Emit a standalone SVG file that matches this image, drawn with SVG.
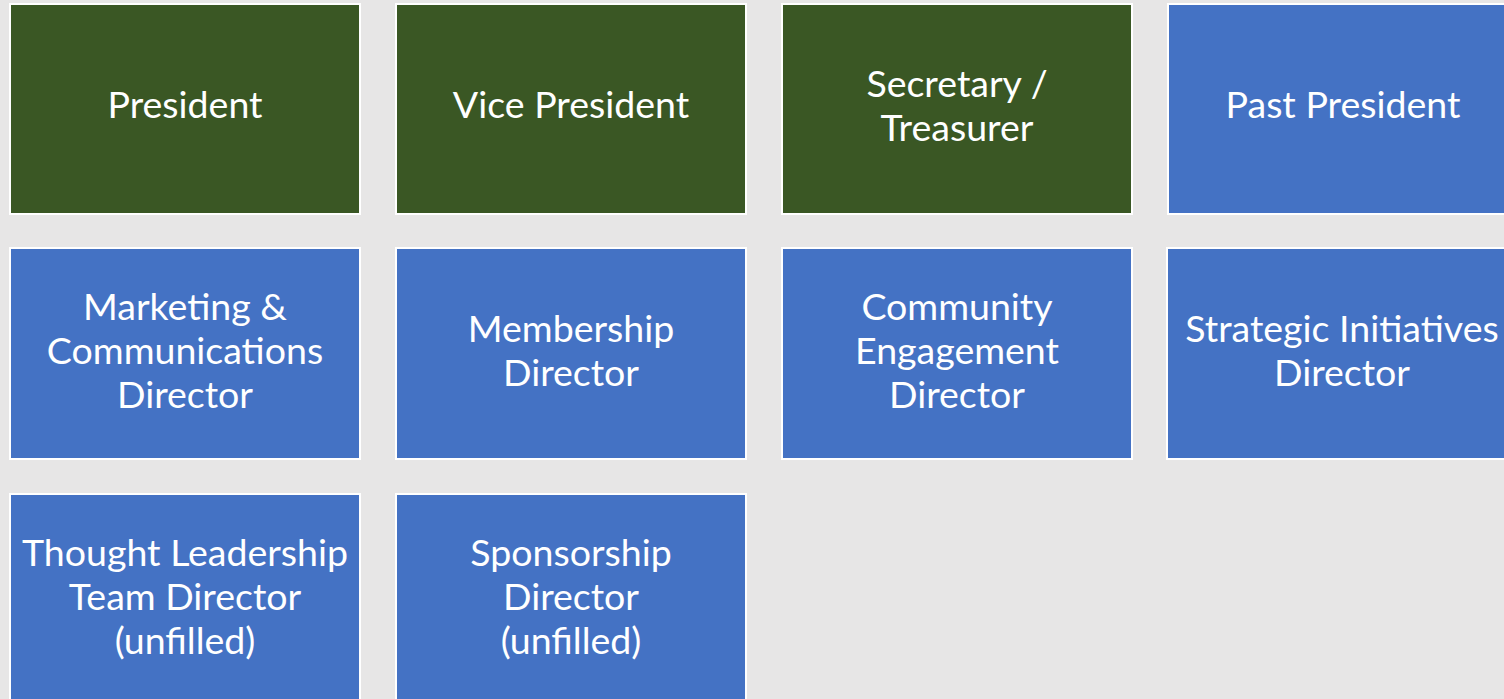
<svg xmlns="http://www.w3.org/2000/svg" width="1504" height="699" viewBox="0 0 1504 699">
  <style>
    .box { stroke: #ffffff; stroke-width: 2; }
    .officer { fill: #3a5724; }
    .director { fill: #4472c4; }
    .label { font-family: Lato, "Open Sans", "Liberation Sans", sans-serif; font-size: 37.5px; fill: #ffffff; text-anchor: middle; }
  </style>
  <rect width="1504" height="699" fill="#e7e6e6"/>

  <!-- Officers row -->
  <g id="president">
    <rect class="box officer" x="10" y="4" width="350" height="210"/>
    <text class="label" x="185" y="118">President</text>
  </g>
  <g id="vice-president">
    <rect class="box officer" x="396" y="4" width="350" height="210"/>
    <text class="label" x="571" y="118">Vice President</text>
  </g>
  <g id="secretary-treasurer">
    <rect class="box officer" x="782" y="4" width="350" height="210"/>
    <text class="label" x="957" y="97">Secretary /</text>
    <text class="label" x="957" y="141">Treasurer</text>
  </g>
  <g id="past-president">
    <rect class="box director" x="1168" y="4" width="350" height="210"/>
    <text class="label" x="1343" y="118">Past President</text>
  </g>

  <!-- Directors row -->
  <g id="marketing-communications">
    <rect class="box director" x="10" y="248" width="350" height="211"/>
    <text class="label" x="185" y="320">Marketing &amp;</text>
    <text class="label" x="185" y="364">Communications</text>
    <text class="label" x="185" y="408">Director</text>
  </g>
  <g id="membership">
    <rect class="box director" x="396" y="248" width="350" height="211"/>
    <text class="label" x="571" y="342">Membership</text>
    <text class="label" x="571" y="386">Director</text>
  </g>
  <g id="community-engagement">
    <rect class="box director" x="782" y="248" width="350" height="211"/>
    <text class="label" x="957" y="320">Community</text>
    <text class="label" x="957" y="364">Engagement</text>
    <text class="label" x="957" y="408">Director</text>
  </g>
  <g id="strategic-initiatives">
    <rect class="box director" x="1167" y="248" width="350" height="211"/>
    <text class="label" x="1342" y="342">Strategic Initiatives</text>
    <text class="label" x="1342" y="386">Director</text>
  </g>

  <!-- Open positions row -->
  <g id="thought-leadership">
    <rect class="box director" x="10" y="494" width="350" height="211"/>
    <text class="label" x="185" y="566">Thought Leadership</text>
    <text class="label" x="185" y="610">Team Director</text>
    <text class="label" x="185" y="654">(unfilled)</text>
  </g>
  <g id="sponsorship">
    <rect class="box director" x="396" y="494" width="350" height="211"/>
    <text class="label" x="571" y="566">Sponsorship</text>
    <text class="label" x="571" y="610">Director</text>
    <text class="label" x="571" y="654">(unfilled)</text>
  </g>

  <g id="connectors"/>
</svg>
